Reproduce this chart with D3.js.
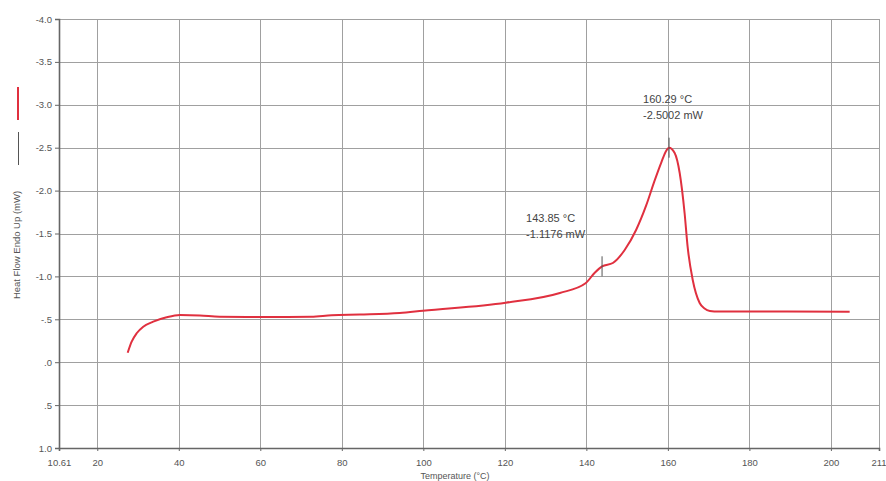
<!DOCTYPE html>
<html>
<head>
<meta charset="utf-8">
<script src="https://cdn.jsdelivr.net/npm/d3@7"></script>
<style>
  body { margin: 0; background: #fff; }
  svg { display: block; font-family: Arial, "Liberation Sans", sans-serif; }
  .tick-label { font-size: 9.5px; fill: #555; }
  .note { font-size: 11px; fill: #444; }
</style>
</head>
<body>
<svg id="chart" width="886" height="481"></svg>
<script>
// DSC trace
const temps = [27.46, 28.44, 29.66, 31.28, 33.73, 37.02, 40.28, 45.19, 50.0, 60.0, 72.5, 77.5,
  84.4, 94.2, 99.9, 120.2, 133.5, 139.8, 142.0, 143.85, 146.5, 149.4, 152.2, 154.7, 156.7,
  158.4, 159.6, 160.29, 161.67, 162.9, 164.1, 164.85, 166.1, 167.8, 169.0, 170.3, 172.5, 204.6];
const heatFlow = [-0.11, -0.239, -0.337, -0.414, -0.472, -0.523, -0.55, -0.545, -0.53, -0.527,
  -0.53, -0.548, -0.556, -0.573, -0.6, -0.693, -0.807, -0.92, -1.04, -1.1176, -1.156, -1.308,
  -1.541, -1.83, -2.11, -2.33, -2.465, -2.5002, -2.438, -2.205, -1.739, -1.343, -0.958,
  -0.69, -0.625, -0.598, -0.591, -0.589];

const xTicks = [10.61, 20, 40, 60, 80, 100, 120, 140, 160, 180, 200, 211.8];
const xTickLabels = ["10.61", "20", "40", "60", "80", "100", "120", "140", "160", "180", "200", "211.8"];
const yTicks = [-4, -3.5, -3, -2.5, -2, -1.5, -1, -0.5, 0, 0.5, 1];
const yTickLabels = ["-4.0", "-3.5", "-3.0", "-2.5", "-2.0", "-1.5", "-1.0", "-.5", ".0", ".5", "1.0"];

const notes = [
  { t: 143.85, v: -1.1176, lines: ["143.85 \u00B0C", "-1.1176 mW"] },
  { t: 160.29, v: -2.5002, lines: ["160.29 \u00B0C", "-2.5002 mW"] }
];

const svg = d3.select('#chart');
const plotLeft = 59, plotRight = 879, plotTop = 19, plotBottom = 448;

const x = d3.scaleLinear().domain([10.61, 211.8]).range([plotLeft, plotRight]);
const y = d3.scaleLinear().domain([-4, 1]).range([plotTop, plotBottom]);

// ==========================================
// GRID
// ==========================================
const grid = svg.append('g').attr('stroke', '#a0a0a0').attr('stroke-width', 1);
grid.selectAll('.vx')
  .data(xTicks.slice(1))
  .enter()
  .append('line')
  .attr('x1', d => Math.round(x(d)) + 0.5)
  .attr('x2', d => Math.round(x(d)) + 0.5)
  .attr('y1', plotTop)
  .attr('y2', plotBottom);
grid.selectAll('.hy')
  .data(yTicks.slice(0, -1))
  .enter()
  .append('line')
  .attr('x1', plotLeft)
  .attr('x2', plotRight)
  .attr('y1', d => Math.round(y(d)) + 0.5)
  .attr('y2', d => Math.round(y(d)) + 0.5);

// ==========================================
// AXES
// ==========================================
const xAxis = d3.axisBottom(x)
  .tickValues(xTicks)
  .tickFormat((d, i) => xTickLabels[i])
  .tickSize(3)
  .tickPadding(8);
const gx = svg.append('g').attr('transform', `translate(0,${plotBottom})`).call(xAxis);

const yAxis = d3.axisLeft(y)
  .tickValues(yTicks)
  .tickFormat((d, i) => yTickLabels[i])
  .tickSize(4)
  .tickPadding(3);
const gy = svg.append('g').attr('transform', `translate(${plotLeft},0)`).call(yAxis);

[gx, gy].forEach(g => {
  g.select('.domain').attr('stroke', '#666').attr('stroke-width', 1.6);
  g.selectAll('.tick line').attr('stroke', '#666');
  g.selectAll('.tick text').attr('class', 'tick-label').attr('fill', null);
  g.attr('font-size', null).attr('font-family', null);
});
// last label is clipped by the frame edge in the original too
gx.selectAll('.tick text').filter((d, i) => i === xTicks.length - 1).attr('text-anchor', 'start').attr('dx', -8);

svg.append('text')
  .attr('class', 'tick-label')
  .attr('x', 455)
  .attr('y', 479)
  .attr('text-anchor', 'middle')
  .style('font-size', '9px')
  .text('Temperature (\u00B0C)');

svg.append('text')
  .attr('class', 'tick-label')
  .attr('transform', 'translate(20,245) rotate(-90)')
  .attr('text-anchor', 'middle')
  .style('font-size', '9.5px')
  .text('Heat Flow Endo Up (mW)');

// legend swatches
svg.append('line')
  .attr('x1', 18).attr('x2', 18).attr('y1', 87).attr('y2', 120)
  .attr('stroke', '#e0303f').attr('stroke-width', 2);
svg.append('line')
  .attr('x1', 18.5).attr('x2', 18.5).attr('y1', 132).attr('y2', 165)
  .attr('stroke', '#555').attr('stroke-width', 1);

// ==========================================
// CURVE
// ==========================================
const pts = temps.map((t, i) => [t, heatFlow[i]]);
const line = d3.line()
  .x(d => x(d[0]))
  .y(d => y(d[1]))
  .curve(d3.curveMonotoneX);

svg.append('path')
  .datum(pts)
  .attr('fill', 'none')
  .attr('stroke', '#e0303f')
  .attr('stroke-width', 2)
  .attr('d', line);

// ==========================================
// ANNOTATIONS
// ==========================================
notes.forEach(n => {
  const px = x(n.t), py = y(n.v);
  svg.append('line')
    .attr('x1', px).attr('x2', px)
    .attr('y1', py - 10).attr('y2', py + 10)
    .attr('stroke', '#555').attr('stroke-width', 1);
  n.lines.forEach((s, i) => {
    svg.append('text')
      .attr('class', 'note')
      .attr('x', px - 76 + (n.t > 150 ? 50 : 0))
      .attr('y', py - (n.t > 150 ? 45 : 44) + i * 16)
      .text(s);
  });
});
</script>
</body>
</html>
